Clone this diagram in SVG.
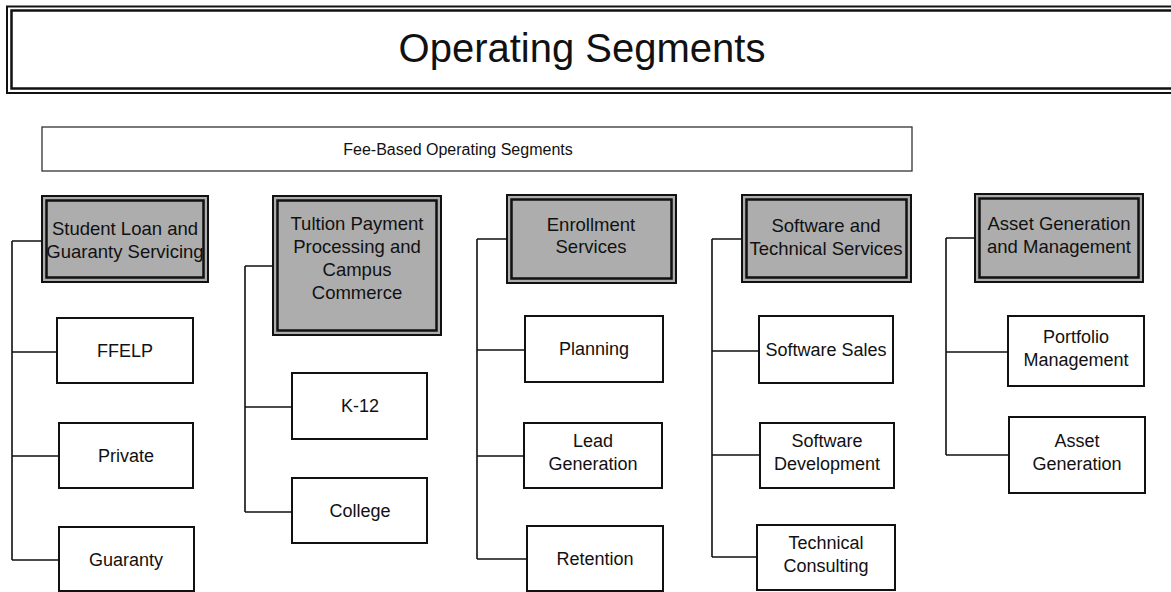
<svg xmlns="http://www.w3.org/2000/svg" width="1171" height="592" viewBox="0 0 1171 592">
<style>
text{font-family:"Liberation Sans",Arial,sans-serif;fill:#111;text-anchor:middle}
.t{font-size:40px}
.f{font-size:16px}
.h{font-size:18.5px}
.c{font-size:18px}
.box{fill:#fff;stroke:#111;stroke-width:2}
.ho{fill:#adadad;stroke:#111;stroke-width:2}
.hi{fill:none;stroke:#111;stroke-width:2.5}
.ln{stroke:#111;stroke-width:1.6;fill:none}
</style>
<rect width="1171" height="592" fill="#fff"/>
<g id="title">
<rect x="7" y="6.5" width="1175" height="86.5" fill="#fff" stroke="#111" stroke-width="2"/>
<rect x="11.5" y="10.5" width="1170" height="78" fill="none" stroke="#111" stroke-width="2.5"/>
<text class="t" x="582" y="62">Operating Segments</text>
</g>
<g id="fee">
<rect x="42" y="127" width="870" height="44" fill="#fff" stroke="#333" stroke-width="1.3"/>
<text class="f" x="458" y="155">Fee-Based Operating Segments</text>
</g>
<g id="connectors">
<path class="ln" d="M12,241V560 M12,241H42 M12,352H57 M12,456H59 M12,560H59"/>
<path class="ln" d="M245,266V512 M245,266H273 M245,407H292 M245,512H292"/>
<path class="ln" d="M477,239V559 M477,239H507 M477,350H525 M477,456H524 M477,559H527"/>
<path class="ln" d="M712,239V557 M712,239H742 M712,351H759 M712,455H760 M712,557H757"/>
<path class="ln" d="M946,238V455 M946,238H975 M946,352H1008 M946,455H1009"/>
</g>
<g id="h-student">
<rect class="ho" x="42" y="196" width="166" height="86"/>
<rect class="hi" x="46.5" y="200.5" width="157" height="77"/>
<text class="h" x="125" y="235">Student Loan and</text>
<text class="h" x="125" y="258">Guaranty Servicing</text>
</g>
<g id="h-tuition">
<rect class="ho" x="273" y="196" width="168" height="139"/>
<rect class="hi" x="277.5" y="200.5" width="159" height="130"/>
<text class="h" x="357" y="230">Tultion Payment</text>
<text class="h" x="357" y="253">Processing and</text>
<text class="h" x="357" y="276">Campus</text>
<text class="h" x="357" y="299">Commerce</text>
</g>
<g id="h-enroll">
<rect class="ho" x="507" y="195" width="169" height="88"/>
<rect class="hi" x="511.5" y="199.5" width="160" height="79"/>
<text class="h" x="591" y="231">Enrollment</text>
<text class="h" x="591" y="253">Services</text>
</g>
<g id="h-software">
<rect class="ho" x="742" y="195" width="169" height="87"/>
<rect class="hi" x="746.5" y="199.5" width="160" height="78"/>
<text class="h" x="826" y="232">Software and</text>
<text class="h" x="826" y="255">Technical Services</text>
</g>
<g id="h-asset">
<rect class="ho" x="975" y="194" width="168" height="88"/>
<rect class="hi" x="979.5" y="198.5" width="159" height="79"/>
<text class="h" x="1059" y="230">Asset Generation</text>
<text class="h" x="1059" y="253">and Management</text>
</g>
<g id="c-ffelp"><rect class="box" x="57" y="318" width="136" height="65"/><text class="c" x="125" y="357">FFELP</text></g>
<g id="c-private"><rect class="box" x="59" y="423" width="134" height="65"/><text class="c" x="126" y="462">Private</text></g>
<g id="c-guaranty"><rect class="box" x="59" y="527" width="135" height="64"/><text class="c" x="126" y="566">Guaranty</text></g>
<g id="c-k12"><rect class="box" x="292" y="373" width="135" height="66"/><text class="c" x="360" y="412">K-12</text></g>
<g id="c-college"><rect class="box" x="292" y="478" width="135" height="65"/><text class="c" x="360" y="517">College</text></g>
<g id="c-planning"><rect class="box" x="525" y="316" width="138" height="66"/><text class="c" x="594" y="355">Planning</text></g>
<g id="c-lead"><rect class="box" x="524" y="423" width="138" height="65"/><text class="c" x="593" y="447">Lead</text><text class="c" x="593" y="470">Generation</text></g>
<g id="c-retention"><rect class="box" x="527" y="526" width="136" height="65"/><text class="c" x="595" y="565">Retention</text></g>
<g id="c-swsales"><rect class="box" x="759" y="316" width="134" height="67"/><text class="c" x="826" y="356">Software Sales</text></g>
<g id="c-swdev"><rect class="box" x="760" y="423" width="134" height="65"/><text class="c" x="827" y="447">Software</text><text class="c" x="827" y="470">Development</text></g>
<g id="c-tech"><rect class="box" x="757" y="525" width="138" height="65"/><text class="c" x="826" y="549">Technical</text><text class="c" x="826" y="572">Consulting</text></g>
<g id="c-portfolio"><rect class="box" x="1008" y="316" width="136" height="70"/><text class="c" x="1076" y="343">Portfolio</text><text class="c" x="1076" y="366">Management</text></g>
<g id="c-assetgen"><rect class="box" x="1009" y="417" width="136" height="76"/><text class="c" x="1077" y="447">Asset</text><text class="c" x="1077" y="470">Generation</text></g>
</svg>
